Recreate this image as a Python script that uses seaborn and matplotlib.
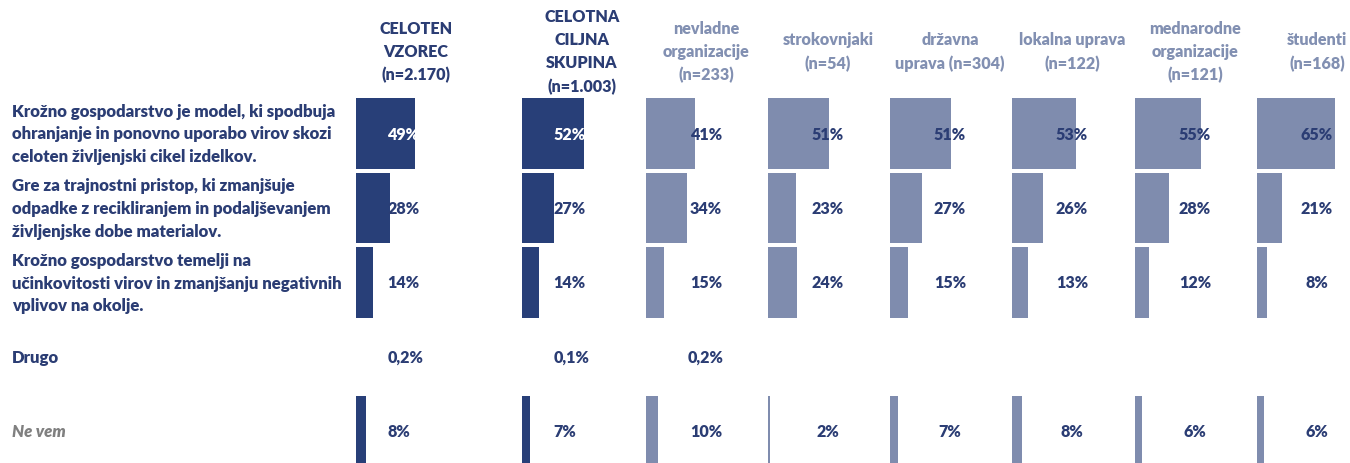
import numpy as np
import pandas as pd
import matplotlib
matplotlib.use('Agg')
import matplotlib.pyplot as plt
import matplotlib.transforms as mtransforms
import seaborn as sns

# --- data ---
groups = ['CELOTEN\nVZOREC\n(n=2.170)',
          'CELOTNA\nCILJNA\nSKUPINA\n(n=1.003)',
          'nevladne\norganizacije\n(n=233)',
          'strokovnjaki\n(n=54)',
          'državna\nuprava (n=304)',
          'lokalna uprava\n(n=122)',
          'mednarodne\norganizacije\n(n=121)',
          'študenti\n(n=168)']

answers = ['Krožno gospodarstvo je model, ki spodbuja\nohranjanje in ponovno uporabo virov skozi\nceloten življenjski cikel izdelkov.',
           'Gre za trajnostni pristop, ki zmanjšuje\nodpadke z recikliranjem in podaljševanjem\nživljenjske dobe materialov.',
           'Krožno gospodarstvo temelji na\nučinkovitosti virov in zmanjšanju negativnih\nvplivov na okolje.',
           'Drugo',
           'Ne vem']

model_resources = [49, 52, 41, 51, 51, 53, 55, 65]
sustainable_waste = [28, 27, 34, 23, 27, 26, 28, 21]
efficiency_impact = [14, 14, 15, 24, 15, 13, 12, 8]
other = [0.2, 0.1, 0.2, np.nan, np.nan, np.nan, np.nan, np.nan]
dont_know = [8, 7, 10, 2, 7, 8, 6, 6]

rows = [model_resources, sustainable_waste, efficiency_impact, other, dont_know]
records = []
for ans, vals in zip(answers, rows):
    for g, v in zip(groups, vals):
        records.append({'group': g, 'answer': ans, 'value': v})
df = pd.DataFrame(records)

# --- style ---
DARK = '#283f78'
LIGHT = '#7f8cae'
NAVY = '#2b3d74'
HEAD_LIGHT = '#8290b2'
GREY = '#808080'
FONT = 'Lato'
FS = 11.6
WEIGHT = 'heavy'

W, H = 1350, 464
fig = plt.figure(figsize=(W / 100, H / 100), dpi=100)
fig.patch.set_facecolor('white')

bar_starts = [356, 522, 646, 768, 890, 1012, 1135, 1257]   # px
px_per_unit = 1.2
panel_px = 130
row_top, row_bottom = 97.25, 469.75                       # px from top

for i, g in enumerate(groups):
    ax = fig.add_axes([bar_starts[i] / W, (H - row_bottom) / H,
                       panel_px / W, (row_bottom - row_top) / H])
    sub = df[df['group'] == g]
    col = DARK if i < 2 else LIGHT
    sns.barplot(data=sub, y='answer', x='value', order=answers, orient='h',
                color=col, width=0.953, saturation=1, errorbar=None, ax=ax)
    ax.set_xlim(0, panel_px / px_per_unit)
    ax.set_ylim(len(answers) - 0.5, -0.5)
    ax.axis('off')

    # value labels
    for j, ans in enumerate(answers):
        v = sub.loc[sub['answer'] == ans, 'value'].iloc[0]
        if np.isnan(v):
            continue
        txt = (f'{v:.1f}'.replace('.', ',') + '%') if v < 1 else f'{v:.0f}%'
        tcol = 'white' if (i < 2 and j == 0) else NAVY
        if i < 2:
            ax.text(26, j, txt, ha='left', va='center', color=tcol,
                    fontsize=FS, fontweight=WEIGHT, family=FONT, clip_on=False)
        else:
            ax.text(50, j, txt, ha='center', va='center', color=tcol,
                    fontsize=FS, fontweight=WEIGHT, family=FONT, clip_on=False)

    # column header
    trans = mtransforms.blended_transform_factory(ax.transData, fig.transFigure)
    ax.text(50, 1 - 52 / H, g, transform=trans, ha='center', va='center',
            color=NAVY if i < 2 else HEAD_LIGHT, fontsize=FS,
            fontweight=WEIGHT, family=FONT, linespacing=1.55, clip_on=False)

    if i == 0:
        ltrans = mtransforms.blended_transform_factory(fig.transFigure, ax.transData)
        for j, ans in enumerate(answers):
            italic = ans == 'Ne vem'
            ax.text(12 / W, j, ans, transform=ltrans, ha='left', va='center',
                    color=GREY if italic else NAVY, fontsize=12.1,
                    fontweight=WEIGHT, style='italic' if italic else 'normal',
                    family=FONT, linespacing=1.5, clip_on=False)

fig.savefig('out.png', dpi=100, facecolor='white')
